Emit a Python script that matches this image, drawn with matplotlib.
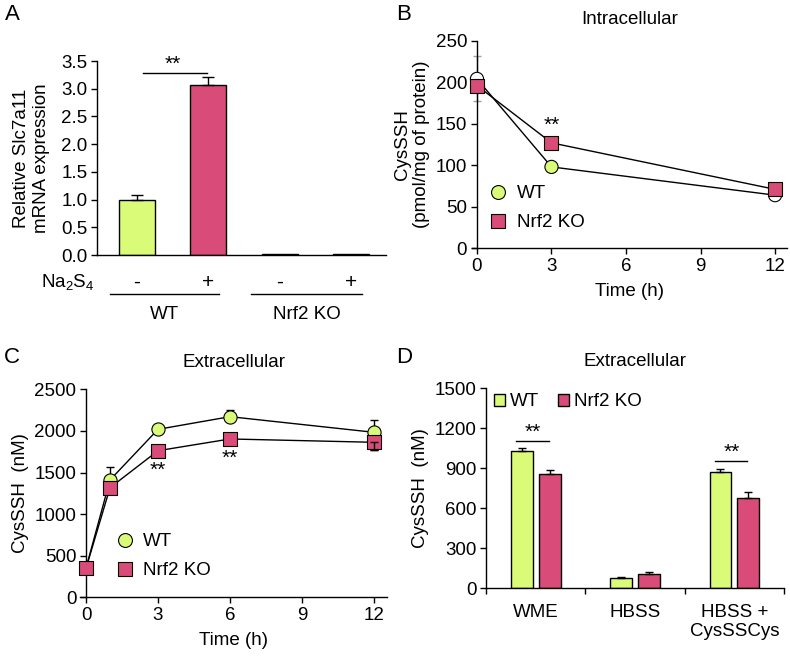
import numpy as np
import matplotlib
matplotlib.use('Agg')
import matplotlib.pyplot as plt
from matplotlib.lines import Line2D
from matplotlib.patches import Patch
import matplotlib.transforms as mtransforms

plt.rcParams['font.family'] = ['Liberation Sans', 'DejaVu Sans']
plt.rcParams['mathtext.default'] = 'regular'
plt.rcParams['font.size'] = 10.5

# =============================================================================
# DATA
# =============================================================================

# Panel A
a_vals = [1.0, 3.06, 0.02, 0.02]
a_err = [0.09, 0.15, 0.0, 0.0]
a_treat = ['-', '+', '-', '+']
a_groups = ['WT', 'Nrf2 KO']

# Panel B (intracellular)
b_time = [0, 3, 12]
b_wt = [204, 98, 64]
b_ko = [196, 127, 71]
b_wt_err0 = 27

# Panel C (extracellular)
c_time = [0, 1, 3, 6, 12]
c_wt = [350, 1410, 2019, 2171, 1983]
c_wt_err = [0, 160, 20, 80, 150]
c_ko = [348, 1317, 1762, 1903, 1863]
c_ko_err = [0, 20, 60, 30, 90]

# Panel D
d_cats = ['WME', 'HBSS', 'HBSS +\nCysSSCys']
d_wt = [1032, 75, 870]
d_wt_err = [22, 10, 22]
d_ko = [857, 107, 675]
d_ko_err = [30, 15, 45]

# =============================================================================
# PLOT
# =============================================================================

green = '#d9fb78'
pink = '#d94b78'
W, H = 790, 656
lw = 1.0


def axes_px(left, top, right, bottom):
    return [left / W, 1 - bottom / H, (right - left) / W, (bottom - top) / H]


def style(ax):
    for s in ['top', 'right']:
        ax.spines[s].set_visible(False)
    ax.spines['left'].set_linewidth(lw)
    ax.spines['bottom'].set_linewidth(lw)
    ax.tick_params(direction='out', length=4, width=lw, labelsize=13.5, pad=3)


fig = plt.figure(figsize=(7.9, 6.56), dpi=100)

# ---------------- A ----------------
axA = fig.add_axes(axes_px(97, 61, 386, 255))
style(axA)
xa = np.arange(4)
axA.bar(xa, a_vals, width=0.5, color=[green, pink, green, pink],
        edgecolor='black', linewidth=lw, zorder=2)
axA.errorbar(xa[:2], a_vals[:2], yerr=[[0, 0], a_err[:2]], fmt='none',
             ecolor='black', elinewidth=lw, capsize=4, capthick=lw)
axA.set_xlim(-0.56, 3.49)
axA.set_ylim(0, 3.5)
axA.set_yticks(np.arange(0, 3.51, 0.5))
axA.set_yticklabels(['%.1f' % v for v in np.arange(0, 3.51, 0.5)])
axA.set_xticks([])
axA.set_ylabel('Relative Slc7a11\nmRNA expression', fontsize=13.5, labelpad=8)
axA.plot([0.08, 0.98], [3.29, 3.29], color='black', lw=lw)
axA.text(0.5, 3.27, '**', ha='center', va='bottom', fontsize=15)
trA = mtransforms.blended_transform_factory(axA.transData, axA.transAxes)
for x, t in zip(xa, a_treat):
    axA.text(x, -0.14, t, transform=trA, ha='center', va='center', fontsize=15)
axA.text(-0.6, -0.14, 'Na$_2$S$_4$', transform=trA, ha='right', va='center', fontsize=13.5)
for (x0, x1), g in zip([(-0.38, 1.15), (1.6, 3.15)], a_groups):
    axA.plot([x0, x1], [-0.2, -0.2], transform=trA, color='black', lw=lw, clip_on=False)
    axA.text((x0 + x1) / 2, -0.305, g, transform=trA, ha='center', va='center', fontsize=13.5)

# ---------------- B ----------------
axB = fig.add_axes(axes_px(472, 40.7, 787, 248.3))
style(axB)
axB.spines['left'].set_position(('data', 0))
axB.errorbar([0], [b_wt[0]], yerr=b_wt_err0, fmt='none', ecolor='#a0a0a0',
             elinewidth=lw, capsize=3, zorder=1)
axB.plot(b_time, b_wt, color='black', lw=lw, zorder=2)
axB.plot(b_time, b_ko, color='black', lw=lw, zorder=2)
axB.scatter(b_time, b_wt, s=90, c=['white', green, 'white'], edgecolors='black',
            linewidths=0.8, zorder=3, clip_on=False)
axB.scatter(b_time, b_ko, s=100, marker='s', c=pink, edgecolors='black',
            linewidths=0.8, zorder=4, clip_on=False)
axB.set_xlim(-0.2, 12.48)
axB.set_ylim(0, 250)
axB.set_xticks([0, 3, 6, 9, 12])
axB.set_yticks([0, 50, 100, 150, 200, 250])
axB.set_xlabel('Time (h)', fontsize=13.5, labelpad=6)
axB.set_ylabel('CysSSH\n(pmol/mg of protein)', fontsize=13.5, labelpad=4)
axB.set_title('Intracellular', fontsize=13.5, pad=12)
axB.text(3, 137, '**', ha='center', va='bottom', fontsize=15)
hB = [Line2D([], [], marker='o', ls='none', ms=10, mfc=green, mec='black', mew=0.8),
      Line2D([], [], marker='s', ls='none', ms=10, mfc=pink, mec='black', mew=0.8)]
axB.legend(hB, ['WT', 'Nrf2 KO'], loc='lower left', bbox_to_anchor=(0.0, 0.0),
           frameon=False, fontsize=13.5, handlelength=1.0, handletextpad=0.5,
           labelspacing=0.65)

# ---------------- C ----------------
axC = fig.add_axes(axes_px(80, 389.3, 387, 597.3))
style(axC)
axC.spines['left'].set_position(('data', 0))
axC.errorbar(c_time, c_wt, yerr=[np.zeros(5), c_wt_err], fmt='none',
             ecolor='black', elinewidth=lw, capsize=3, zorder=1)
axC.errorbar(c_time, c_ko, yerr=[c_ko_err, np.zeros(5)], fmt='none',
             ecolor='black', elinewidth=lw, capsize=3, zorder=1)
axC.errorbar(c_time[-1:], c_ko[-1:], yerr=[c_ko_err[-1:], [0]], fmt='none',
             ecolor='black', elinewidth=lw, capsize=3, zorder=5)
axC.plot(c_time, c_wt, color='black', lw=lw, zorder=2)
axC.plot(c_time, c_ko, color='black', lw=lw, zorder=2)
axC.scatter(c_time, c_wt, s=90, c=green, edgecolors='black', linewidths=0.8,
            zorder=3, clip_on=False)
axC.scatter(c_time, c_ko, s=100, marker='s', c=pink, edgecolors='black',
            linewidths=0.8, zorder=4, clip_on=False)
axC.set_xlim(-0.25, 12.54)
axC.set_ylim(0, 2500)
axC.set_xticks([0, 3, 6, 9, 12])
axC.set_yticks([0, 500, 1000, 1500, 2000, 2500])
axC.set_xlabel('Time (h)', fontsize=13.5, labelpad=6)
axC.set_ylabel('CysSSH  (nM)', fontsize=13.5, labelpad=4)
axC.set_title('Extracellular', fontsize=13.5, pad=16)
axC.text(3, 1640, '**', ha='center', va='top', fontsize=15)
axC.text(6, 1790, '**', ha='center', va='top', fontsize=15)
axC.legend(hB, ['WT', 'Nrf2 KO'], loc='lower left', bbox_to_anchor=(0.06, 0.005),
           frameon=False, fontsize=13.5, handlelength=1.0, handletextpad=0.5,
           labelspacing=0.65)

# ---------------- D ----------------
axD = fig.add_axes(axes_px(486, 388.3, 784, 588.3))
style(axD)
xd = np.arange(3) + 0.5
axD.bar(xd - 0.14, d_wt, width=0.22, color=green, edgecolor='black', linewidth=lw, zorder=2)
axD.bar(xd + 0.14, d_ko, width=0.22, color=pink, edgecolor='black', linewidth=lw, zorder=2)
axD.errorbar(xd - 0.14, d_wt, yerr=[np.zeros(3), d_wt_err], fmt='none',
             ecolor='black', elinewidth=lw, capsize=3)
axD.errorbar(xd + 0.14, d_ko, yerr=[np.zeros(3), d_ko_err], fmt='none',
             ecolor='black', elinewidth=lw, capsize=3)
axD.set_xlim(0, 3)
axD.set_ylim(0, 1500)
axD.set_yticks([0, 300, 600, 900, 1200, 1500])
axD.set_xticks([0, 1, 2, 3])
axD.set_xticklabels([])
axD.set_xticks(xd, minor=True)
axD.set_xticklabels(d_cats, minor=True)
axD.tick_params(axis='x', which='minor', length=0, pad=11, labelsize=13.5)
axD.set_ylabel('CysSSH  (nM)', fontsize=13.5, labelpad=4)
axD.set_title('Extracellular', fontsize=13.5, pad=16)
for xc, ys in [(xd[0], 1107), (xd[2], 957)]:
    axD.plot([xc - 0.195, xc + 0.13], [ys, ys], color='black', lw=lw)
    axD.text(xc - 0.03, ys - 5, '**', ha='center', va='bottom', fontsize=15)
hD = [Patch(facecolor=green, edgecolor='black', linewidth=lw),
      Patch(facecolor=pink, edgecolor='black', linewidth=lw)]
axD.legend(hD, ['WT', 'Nrf2 KO'], loc='upper left', bbox_to_anchor=(-0.03, 1.06),
           ncol=2, frameon=False, fontsize=13.5, handlelength=0.6, handleheight=0.6,
           handletextpad=0.25, columnspacing=1.0)

# Panel letters
for lab, x, y in [('A', 5, 20), ('B', 396, 20), ('C', 4, 363), ('D', 396, 363)]:
    fig.text(x / W, 1 - y / H, lab, fontsize=16, ha='left', va='baseline')

plt.savefig('out.png', dpi=100)
